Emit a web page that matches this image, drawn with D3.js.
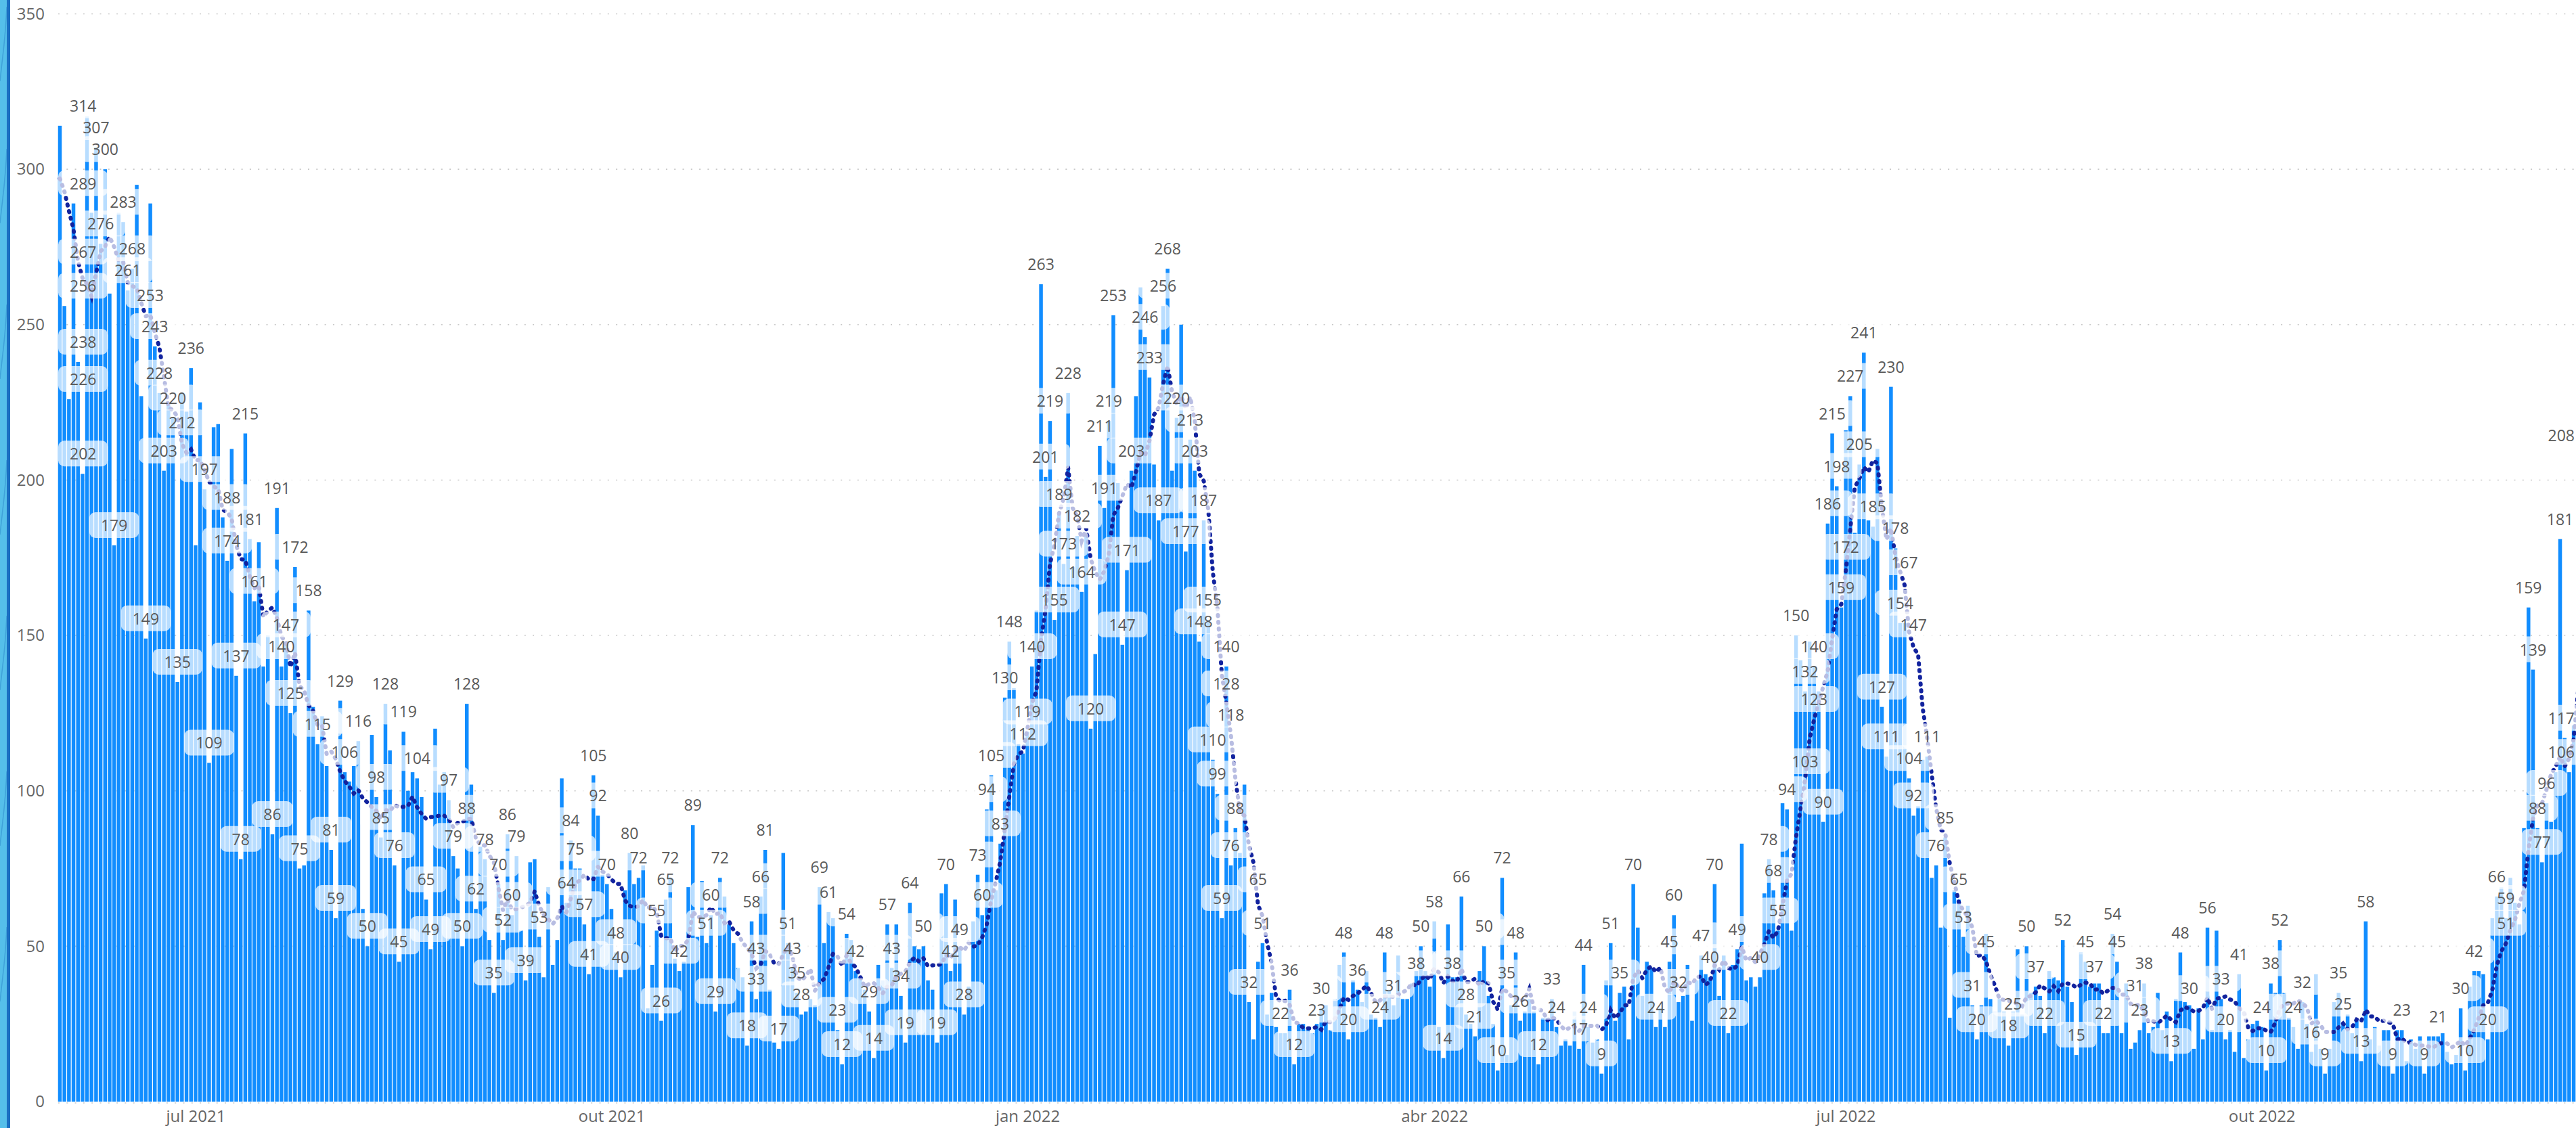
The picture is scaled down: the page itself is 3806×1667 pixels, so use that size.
<!DOCTYPE html>
<html><head><meta charset="utf-8">
<script src="https://cdn.jsdelivr.net/npm/d3@7"></script>
<style>
html,body{margin:0;padding:0;background:#fff;overflow:hidden}
svg{display:block;font-family:"Segoe UI","Open Sans",sans-serif}
</style></head>
<body>
<svg id="chart" width="3806" height="1667"></svg>
<script>
// ---------- DATA ----------
const startDay = [2021, 5, 1];            // first bar: 1 Jun 2021 (month is 0-based)
// daily values, one per day from 1 Jun 2021
const dailyValues = [
314,256,226,289,238,202,317,286,307,276,
300,260,179,286,283,261,268,295,227,149,
289,243,228,203,225,220,135,228,222,236,
179,225,197,109,217,218,188,174,210,137,
78,215,181,161,180,140,150,86,191,140,
147,125,172,75,76,158,127,115,124,108,
81,59,129,106,103,108,116,62,50,118,
98,85,128,113,76,45,119,100,106,104,
98,65,49,120,102,106,97,79,75,50,
128,102,62,82,78,52,35,70,52,86,
60,79,55,39,77,78,53,40,69,44,
52,104,64,84,75,75,57,41,105,92,
73,70,62,48,40,68,80,70,72,76,
30,44,55,26,65,72,46,42,45,69,
89,53,71,51,60,29,72,66,57,51,
43,40,18,58,33,66,81,36,19,17,
80,51,43,35,28,29,33,31,69,51,
61,59,23,12,54,52,42,40,36,29,
14,44,39,57,43,57,34,19,64,50,
49,50,39,36,19,67,70,42,65,49,
28,37,58,73,60,94,105,68,83,130,
148,133,115,112,119,140,158,263,201,219,
155,189,173,228,172,182,164,183,120,144,
211,191,219,253,199,147,171,203,227,262,
246,233,205,187,256,268,203,220,250,177,
213,203,148,187,155,110,99,59,140,76,
88,80,102,32,20,45,51,28,35,24,
22,22,36,12,25,25,23,22,25,30,
31,23,33,44,48,20,39,36,32,42,
28,27,24,48,36,31,47,33,33,38,
42,50,42,37,58,24,14,57,40,40,
66,28,25,21,42,50,34,25,10,72,
15,31,48,26,29,33,29,12,27,27,
33,24,18,20,18,29,17,44,24,19,
20,9,39,51,26,35,37,20,70,56,
34,45,43,24,30,24,45,60,32,34,
44,26,39,47,41,40,70,34,47,22,
44,49,83,39,40,37,40,67,78,68,
55,96,94,55,150,142,132,148,140,132,
90,186,215,198,159,216,227,183,205,241,
187,185,210,127,111,230,178,154,154,104,
92,95,110,111,72,76,56,85,27,68,
65,53,63,31,20,31,54,33,29,33,
29,18,29,49,28,50,35,37,34,22,
42,40,39,52,37,32,15,48,45,37,
38,38,22,22,54,45,22,38,17,19,
23,38,22,24,35,23,29,13,33,48,
32,31,17,30,20,56,23,55,33,20,
23,16,41,14,20,25,26,24,10,38,
35,52,35,27,24,17,32,25,16,41,
17,9,17,32,35,25,28,22,26,13,
58,20,24,18,23,23,9,23,23,13,
20,17,21,9,21,21,21,22,16,12,
15,30,10,37,42,42,41,20,59,66,
69,59,72,64,57,88,159,139,88,77,
96,90,106,181,117,106,121,208
];
// the six days before the first bar (only used by the 7-day average)
const priorWeek = [285,270,330,310,240,330];
const maWindow = 7;

// data labels shown on the chart: [day index, shown value]
const dataLabels = [
[0,314],[1,256],[2,226],[3,289],[4,238],[5,202],[5,267],[8,307],[9,276],[10,300],[12,179],[14,283],[15,261],[16,268],[19,149],[20,253],[21,243],[22,228],[23,203],[25,220],[26,135],[27,212],[29,236],[32,197],[33,109],[37,188],[37,174],[39,137],[40,78],[41,215],[42,181],[43,161],[47,86],[48,191],
[49,140],[50,147],[51,125],[52,172],[53,75],[55,158],[57,115],[60,81],[61,59],[62,129],[63,106],[66,116],[68,50],[70,98],[71,85],[72,128],[74,76],[75,45],[76,119],[79,104],[81,65],[82,49],[86,97],[87,79],[89,50],[90,128],[90,88],[92,62],[94,78],[96,35],[97,70],[98,52],
[99,86],[100,60],[101,79],[103,39],[106,53],[112,64],[113,84],[114,75],[116,57],[117,41],[118,105],[119,92],[121,70],[123,48],[124,40],[126,80],[128,72],[132,55],[133,26],[134,65],[135,72],[137,42],[140,89],[143,51],[144,60],[145,29],[146,72],
[152,18],[153,58],[154,43],[154,33],[155,66],[156,81],[159,17],[161,51],[162,43],[163,35],[164,28],[168,69],[170,61],[172,23],[173,12],[174,54],[176,42],[179,29],[180,14],[183,57],[184,43],[186,34],[187,19],[188,64],[191,50],[194,19],[196,70],[197,42],
[199,49],[200,28],[203,73],[204,60],[205,94],[206,105],[208,83],[209,130],[210,148],[213,112],[214,119],[215,140],[217,263],[218,201],[219,219],[220,155],[221,189],[222,173],[223,228],[225,182],[226,164],[228,120],[230,211],[231,191],[232,219],[233,253],[235,147],[236,171],[237,203],[240,246],[241,233],[243,187],[244,256],[245,268],
[247,220],[249,177],[250,213],[251,203],[252,148],[253,187],[254,155],[255,110],[256,99],[257,59],[258,140],[258,128],[259,118],[259,76],[260,88],[263,32],[265,65],[266,51],[270,22],[272,36],[273,12],[278,23],[279,30],[284,48],[285,20],[287,36],[292,24],[293,48],[295,31],
[300,38],[301,50],[304,58],[306,14],[308,38],[310,66],[311,28],[313,21],[315,50],[318,10],[319,72],[320,35],[322,48],[323,26],[327,12],[330,33],[331,24],[336,17],[337,44],[338,24],[341,9],[343,51],[345,35],
[348,70],[353,24],[356,45],[357,60],[358,32],[363,47],[365,40],[366,70],[369,22],[371,49],[376,40],[378,78],[379,68],[380,55],[382,94],[386,103],[390,90],
[384,150],[386,132],[388,140],[388,123],[391,186],[392,215],[393,198],[394,159],[395,172],[396,227],[398,205],[399,241],[401,185],[403,127],[404,111],[405,230],[406,178],[407,154],[408,167],[409,104],[410,147],[410,92],[413,111],[415,76],[417,85],[420,65],[421,53],[423,31],[424,20],[426,45],
[431,18],[432,25],[435,50],[437,37],[439,22],[443,52],[446,15],[448,45],[450,37],[452,22],[454,54],[455,45],[459,31],[460,23],[461,38],[467,13],[469,48],[471,30],[475,56],
[478,33],[479,20],[482,41],[487,24],[488,10],[489,38],[491,52],[494,24],[496,32],[498,16],[501,9],[504,35],[505,25],[509,13],[510,58],[516,9],[518,23],
[523,9],[526,21],[531,30],[532,10],[534,42],[537,20],[539,66],[541,59],[541,51],[546,159],[547,139],[548,88],[549,77],[550,96],[553,181],[554,117],[555,106],[557,208]
];

const yTicks = [0,50,100,150,200,250,300,350];
const xTickDates = [[2021,6,1],[2021,9,1],[2022,0,1],[2022,3,1],[2022,6,1],[2022,9,1]];
const xTickLabels = ["jul 2021","out 2021","jan 2022","abr 2022","jul 2022","out 2022"];

// ---------- CHART ----------
const W = 3806, H = 1667;
const plotLeft = 86, plotRight = W, plotTop = 20.5, plotBottom = 1628;
const dayPx = 6.68, firstCenter = 88.5;
const svg = d3.select("#chart");
const day = i => new Date(Date.UTC(startDay[0], startDay[1], startDay[2] + i));
const N = dailyValues.length;
const x = d3.scaleUtc().domain([day(0), day(N)]).range([firstCenter, firstCenter + dayPx * N]);
const y = d3.scaleLinear().domain([0, 350]).range([plotBottom, plotTop]);

svg.append("rect").attr("width", W).attr("height", H).attr("fill", "#fff");

// left page decoration
svg.append("rect").attr("x",0).attr("y",0).attr("width",10).attr("height",H).attr("fill","#55bfea");
const deco = svg.append("g").attr("fill","none").attr("stroke","#3a9bd5").attr("stroke-width",1.5).attr("opacity",0.8);
[120,330,560,790,1020,1250,1480].forEach(o => deco.append("path").attr("d",`M0,${o} C4,${o-40} 8,${o-60} 10,${o-110}`));
svg.append("rect").attr("x",10).attr("y",0).attr("width",5).attr("height",H).attr("fill","#1b6fc2");

// gridlines
svg.append("g").selectAll("line").data(yTicks).join("line")
  .attr("x1", plotLeft).attr("x2", plotRight)
  .attr("y1", d => d === 0 ? y(d) + 2 : y(d)).attr("y2", d => d === 0 ? y(d) + 2 : y(d))
  .attr("stroke", "#c8c8c8").attr("stroke-width", 1.6).attr("stroke-dasharray", "2 10.3");

// bars
const bw = 5.5;
svg.append("g").selectAll("rect").data(dailyValues).join("rect")
  .attr("x", (d, i) => x(day(i)) - bw / 2).attr("width", bw)
  .attr("y", d => y(d)).attr("height", d => y(0) - y(d))
  .attr("fill", "#118DFF");

// 7-day trailing moving average
const all = priorWeek.concat(dailyValues);
const ma = dailyValues.map((d, i) => d3.mean(all.slice(i + priorWeek.length - maWindow + 1, i + priorWeek.length + 1)));
svg.append("path").datum(ma)
  .attr("d", d3.line().x((d, i) => x(day(i))).y(d => y(d)))
  .attr("fill", "none").attr("stroke", "#12239E").attr("stroke-width", 6)
  .attr("stroke-linecap", "round").attr("stroke-dasharray", "1.5 8.5");

// data labels
const lg = svg.append("g").attr("font-size", 23).attr("fill", "#595959");
dataLabels.forEach(([i, v]) => {
  const g = lg.append("g");
  const r = g.append("rect");
  const t = g.append("text").text(v).attr("text-anchor", "middle").attr("dominant-baseline", "central");
  const tw = t.node().getComputedTextLength();
  const bwid = tw + 34, bh = 38;
  let cx = x(day(i));
  if (cx - bwid / 2 < plotLeft) cx = plotLeft + bwid / 2;
  if (cx + tw / 2 > W - 2) cx = W - 2 - tw / 2;
  const cy = y(v) - 30;
  t.attr("x", cx).attr("y", cy);
  r.attr("x", cx - bwid / 2).attr("y", cy - bh / 2).attr("width", bwid).attr("height", bh)
   .attr("rx", 9).attr("fill", "#fff").attr("fill-opacity", 0.7);
});

// y axis
const yAxis = svg.append("g").attr("transform", "translate(66,0)")
  .call(d3.axisLeft(y).tickValues(yTicks).tickSize(0).tickPadding(0));
yAxis.select(".domain").remove();
yAxis.selectAll("text").attr("font-size", 24).attr("fill", "#666").attr("font-family", "\"Segoe UI\",\"Open Sans\",sans-serif");

// x axis
const tickDates = xTickDates.map(d => new Date(Date.UTC(d[0], d[1], d[2])));
const xAxis = svg.append("g").attr("transform", `translate(0,${plotBottom})`)
  .call(d3.axisBottom(x).tickValues(tickDates).tickSize(0).tickPadding(13)
    .tickFormat((d, k) => xTickLabels[k]));
xAxis.select(".domain").remove();
xAxis.selectAll("text").attr("font-size", 24).attr("fill", "#666").attr("font-family", "\"Segoe UI\",\"Open Sans\",sans-serif");
</script>
</body></html>
